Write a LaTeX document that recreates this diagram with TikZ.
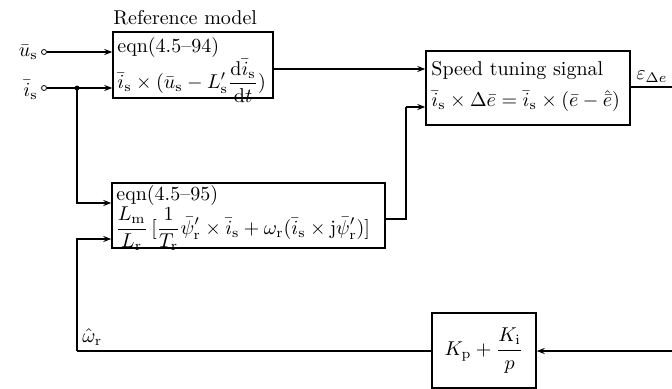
\documentclass[tikz,border=0pt]{standalone}
\usetikzlibrary{arrows.meta}
\begin{document}
\begin{tikzpicture}[x=0.5pt,y=-0.5pt,
  font=\fontsize{10}{11}\selectfont,
  blk/.style={draw,line width=0.7pt,inner sep=0pt},
  txt/.style={anchor=west,inner sep=0pt},
  conn/.style={line width=0.7pt},
  arr/.style={conn,-{Stealth[length=4pt,width=3pt]}},
  port/.style={draw,circle,inner sep=0pt,minimum size=2.5pt,fill=white}]
\useasboundingbox (0,0) rectangle (672,389);
% blocks
\node[blk,minimum width=80pt,minimum height=33pt] (ref) at (193,65) {};
\node[txt] (ref1) at (117,48) {eqn(4.5--94)};
\node[txt] (ref2) at (117,81) {$\displaystyle\bar{i}_{\mathrm{s}}\times(\bar{u}_{\mathrm{s}}-L_{\mathrm{s}}'\frac{\mathrm{d}\bar{i}_{\mathrm{s}}}{\mathrm{d}t})$};
\node[anchor=south west,inner sep=0pt] (reflab) at (113,25) {Reference model};
\node[blk,minimum width=136.5pt,minimum height=32.5pt] (adj) at (248.5,215.5) {};
\node[txt] (adj1) at (116,196) {eqn(4.5--95)};
\node[txt] (adj2) at (115,229) {$\displaystyle\frac{L_{\mathrm{m}}}{L_{\mathrm{r}}}\,[\frac{1}{T_{\mathrm{r}}}\bar{\psi}_{\mathrm{r}}'\times\bar{i}_{\mathrm{s}}+\omega_{\mathrm{r}}(\bar{i}_{\mathrm{s}}\times\mathrm{j}\bar{\psi}_{\mathrm{r}}')]$};
\node[blk,minimum width=102pt,minimum height=37pt] (spd) at (528,88) {};
\node[txt] (spd1) at (431,71) {Speed tuning signal};
\node[txt] (spd2) at (431,101) {$\bar{i}_{\mathrm{s}}\times\Delta\bar{e}=\bar{i}_{\mathrm{s}}\times(\bar{e}-\hat{\bar{e}})$};
\node[blk,minimum width=52pt,minimum height=37.5pt] (pi) at (484,350.5)
  {$\displaystyle K_{\mathrm{p}}+\frac{K_{\mathrm{i}}}{p}$};
% inputs
\node[port] (us) at (44,52) {};
\node[port] (is) at (44,88) {};
\node[anchor=east,inner sep=1.5pt] (uslab) at (us.west) {$\bar{u}_{\mathrm{s}}$};
\node[anchor=east,inner sep=1.5pt] (islab) at ([yshift=-1pt]is.west) {$\bar{i}_{\mathrm{s}}$};
\coordinate (br) at (77,88);
\coordinate (c1) at (406,219);
\coordinate (c2) at (406,107);
\coordinate (out) at (672,87);
\coordinate (fbin) at (672,351);
\coordinate (fb1) at (77,351);
% connectors
\draw[arr] (us.east) -- (us.east -| ref.west);
\draw[arr] (is.east) -- (is.east -| ref.west);
\fill (br) circle (1.2pt);
\draw[arr] (br) |- (adj.west |- 0,203);
\draw[arr] (ref.east |- 0,69) -- (spd.west |- 0,69);
\draw[conn] (adj.east |- c1) -- (c1) -- (c2);
\draw[arr] (c2) -- (spd.west |- c2);
\draw[conn] (spd.east |- out) -- (out);
\node[anchor=south west,inner sep=1pt] (eps) at (634,85) {$\varepsilon_{\Delta e}$};
\draw[arr] (fbin) -- (pi.east |- fbin);
\draw[conn] (pi.west |- fb1) -- (fb1);
\draw[arr] (fb1) |- (adj.west |- 0,239);
\node[anchor=south west,inner sep=1pt] (wr) at (80,348) {$\hat{\omega}_{\mathrm{r}}$};
\end{tikzpicture}
\end{document}
